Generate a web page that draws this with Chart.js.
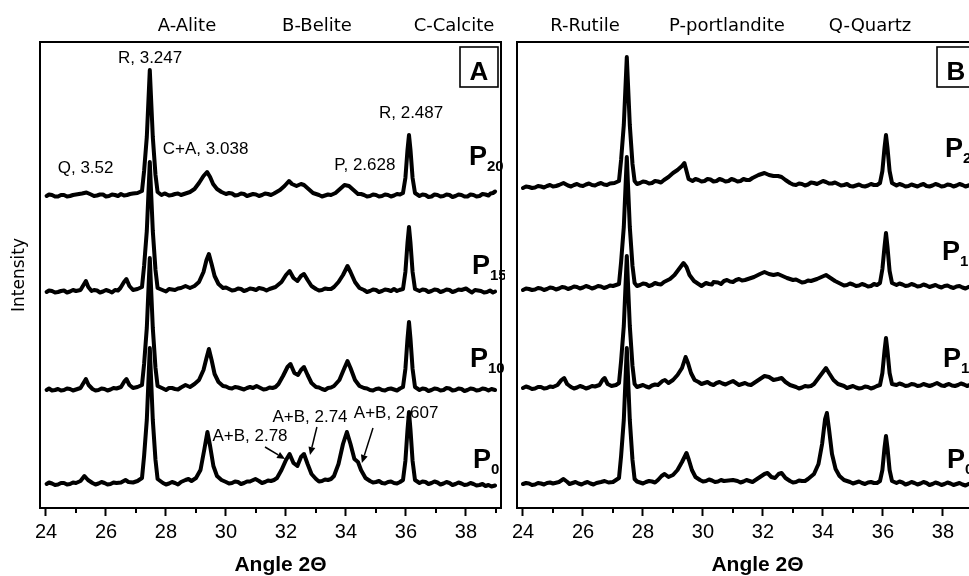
<!DOCTYPE html>
<html><head><meta charset="utf-8">
<script src="https://cdn.jsdelivr.net/npm/chart.js@4.4.1/dist/chart.umd.min.js"></script>
<style>
html,body{margin:0;padding:0;background:#fff;width:969px;height:576px;overflow:hidden;position:relative}
canvas{position:absolute;top:0}
#cA{left:0}
#cB{left:477px}
.leg{position:absolute;top:16px;font-family:"DejaVu Sans",sans-serif;font-size:18px;line-height:18px;white-space:nowrap;transform:translateX(-50%);color:#000}
</style></head><body>
<canvas id="cA" width="505" height="576"></canvas>
<canvas id="cB" width="505" height="576"></canvas>
<script>
// ---------- data (angle 2θ, intensity above own baseline) ----------
const angleTicks = [24, 26, 28, 30, 32, 34, 36, 38];
const minorTicks = [25, 27, 29, 31, 33, 35, 37, 39];
const seriesNames = ['P0', 'P10', 'P15', 'P20'];
const phaseLegend = ['A-Alite', 'B-Belite', 'C-Calcite', 'R-Rutile', 'P-portlandite', 'Q-Quartz'];
const offsetsA = [24, 118, 216, 312];
const offsetsB = [24, 120, 219, 322];

const A_P20 = [[24.02,0],[24.1,1.5],[24.2,1],[24.3,-0.5],[24.4,-0.5],[24.5,1],[24.6,1],[24.7,-0.5],[24.8,0],[24.9,1],[25.0,1.5],[25.2,2.5],[25.35,3.5],[25.5,1.5],[25.6,0],[25.7,0.5],[25.8,1.5],[25.9,1.5],[26.0,-0.5],[26.1,0],[26.2,1.5],[26.3,1],[26.4,0],[26.5,2],[26.6,0.5],[26.7,1],[26.8,2],[26.9,2.5],[27.05,3],[27.2,5],[27.27,25],[27.36,59],[27.46,126],[27.56,59],[27.65,21],[27.72,4],[27.85,1],[27.95,2.5],[28.0,2],[28.1,0.5],[28.2,1],[28.3,2],[28.4,2.5],[28.5,1],[28.6,2],[28.7,3],[28.8,4],[28.95,7],[29.1,13],[29.25,20],[29.37,24],[29.47,19],[29.57,12],[29.7,7],[29.85,4],[30.0,2],[30.1,3],[30.2,2.5],[30.3,0.5],[30.4,1],[30.5,2.5],[30.6,2],[30.7,0],[30.8,1],[30.9,2],[31.0,1.5],[31.1,0],[31.2,1],[31.3,2.5],[31.4,2],[31.5,1],[31.6,2.5],[31.8,6],[31.95,10],[32.1,15],[32.2,12],[32.35,10],[32.5,12],[32.6,11],[32.75,7],[32.9,3],[33.0,2],[33.1,1],[33.2,-0.5],[33.3,0.5],[33.4,1.5],[33.5,1],[33.65,3],[33.8,7],[33.95,11],[34.1,10],[34.25,6],[34.4,2],[34.5,2],[34.6,1],[34.7,-0.5],[34.8,0],[34.9,1.5],[35.0,1],[35.1,-0.5],[35.2,0],[35.3,1.5],[35.4,1],[35.5,-0.5],[35.6,0.5],[35.7,2],[35.8,1.5],[35.9,3],[35.98,18],[36.05,46],[36.1,61],[36.15,46],[36.22,18],[36.3,3],[36.45,0],[36.55,1.5],[36.65,1],[36.75,-1],[36.85,-0.5],[36.95,1.5],[37.05,1],[37.15,-0.5],[37.25,0],[37.35,1.5],[37.45,1],[37.55,-1],[37.65,0],[37.75,1.5],[37.85,1],[37.95,-0.5],[38.05,-0.5],[38.15,1.5],[38.25,1],[38.35,-0.5],[38.45,0],[38.55,2],[38.65,1.5],[38.75,0.5],[38.82,2.5],[38.9,3],[38.97,4.5]];
const A_P15 = [[24.02,0],[24.1,1.5],[24.2,1],[24.3,-0.5],[24.4,0],[24.5,1],[24.6,1.5],[24.7,-0.5],[24.8,0.5],[24.9,2],[25.0,1],[25.15,2],[25.25,7],[25.33,11],[25.41,5],[25.52,1],[25.6,2],[25.7,1.5],[25.8,-0.5],[25.9,0.5],[26.0,2],[26.1,1],[26.2,-0.5],[26.3,2],[26.4,1.5],[26.48,4],[26.6,10],[26.68,13],[26.78,6],[26.9,2],[27.05,3],[27.2,5],[27.27,26],[27.36,61],[27.46,130],[27.56,61],[27.65,22],[27.72,4],[27.88,2],[28.0,0.5],[28.1,3],[28.2,2.5],[28.3,2],[28.4,3.5],[28.5,4],[28.65,6],[28.8,4],[28.95,6],[29.1,10],[29.25,20],[29.35,32],[29.43,38],[29.52,28],[29.62,16],[29.75,8],[29.9,4],[30.0,4.5],[30.1,3],[30.2,1.5],[30.3,2],[30.4,3.5],[30.5,3],[30.6,1],[30.7,2],[30.8,3.5],[30.9,3],[31.0,2],[31.1,4],[31.25,3],[31.35,1.5],[31.45,3],[31.55,4],[31.65,5],[31.85,10],[32.0,17],[32.12,21],[32.25,14],[32.38,11],[32.5,16],[32.6,18],[32.72,12],[32.85,6],[33.0,3],[33.1,1.5],[33.2,2],[33.3,3.5],[33.4,3],[33.5,3],[33.6,5],[33.75,10],[33.9,17],[34.05,26],[34.15,20],[34.3,10],[34.45,4],[34.6,2],[34.7,0],[34.8,1],[34.9,2.5],[35.0,2],[35.1,0],[35.2,1],[35.3,2.5],[35.4,2],[35.5,1],[35.6,3],[35.7,1],[35.78,2],[35.9,3],[35.98,20],[36.05,49],[36.1,65],[36.15,49],[36.22,20],[36.3,3],[36.45,1],[36.55,2.5],[36.65,2],[36.75,0],[36.85,1],[36.95,2.5],[37.05,2],[37.15,0],[37.25,1],[37.35,2.5],[37.45,2],[37.55,0],[37.65,1],[37.75,2.5],[37.85,2],[38.0,3.5],[38.12,1],[38.2,-0.5],[38.3,2],[38.4,1.5],[38.5,1],[38.6,-0.5],[38.7,0],[38.8,1.5],[38.9,-0.5],[38.97,0.5]];
const A_P10 = [[24.02,0],[24.1,1.5],[24.2,-0.5],[24.3,0],[24.4,1],[24.5,-0.5],[24.6,0],[24.7,1.5],[24.8,1],[24.9,-0.5],[25.0,0.5],[25.15,2],[25.25,7],[25.33,11],[25.42,5],[25.55,1],[25.65,-0.5],[25.75,0],[25.85,1.5],[25.95,1],[26.05,-0.5],[26.15,0.5],[26.25,2],[26.35,1.5],[26.5,3],[26.62,9],[26.68,11],[26.78,5],[26.9,2],[27.05,3],[27.2,5],[27.27,26],[27.36,62],[27.46,132],[27.56,62],[27.65,22],[27.72,4],[27.9,1.5],[28.0,0],[28.1,2],[28.2,2],[28.3,1],[28.4,0.5],[28.5,2.5],[28.65,5],[28.8,3],[28.95,6],[29.1,10],[29.25,20],[29.35,32],[29.43,41],[29.52,30],[29.62,16],[29.75,8],[29.9,4],[30.0,3.5],[30.1,2],[30.2,1.5],[30.3,3],[30.4,2.5],[30.5,1.5],[30.6,0.5],[30.7,2],[30.8,3],[30.9,2],[31.02,4],[31.15,2],[31.25,0.5],[31.35,1],[31.45,2.5],[31.55,2],[31.65,3],[31.75,6],[31.9,14],[32.05,23],[32.15,26],[32.28,17],[32.4,15],[32.5,20],[32.6,23],[32.72,15],[32.85,7],[33.0,3],[33.1,2.5],[33.2,1],[33.3,0],[33.4,2],[33.5,2.5],[33.6,4],[33.78,10],[33.92,20],[34.05,29],[34.15,22],[34.3,10],[34.45,4],[34.6,2],[34.7,1.5],[34.8,0],[34.9,-0.5],[35.0,1],[35.1,1.5],[35.2,0],[35.3,-0.5],[35.4,1],[35.5,1.5],[35.6,0.5],[35.7,-0.5],[35.8,1.5],[35.9,3],[35.98,21],[36.05,51],[36.1,68],[36.15,51],[36.22,21],[36.3,3],[36.45,0],[36.55,1.5],[36.65,1],[36.75,-1],[36.85,0],[36.95,1.5],[37.05,1],[37.15,-0.5],[37.25,0],[37.35,2],[37.45,1.5],[37.55,-0.5],[37.65,0],[37.75,1.5],[37.85,1],[37.95,-1],[38.05,0],[38.15,1.5],[38.25,1],[38.35,-0.5],[38.45,0],[38.55,1.5],[38.65,1],[38.75,-0.5],[38.85,1],[38.97,0]];
const A_P0 = [[24.02,0],[24.1,1.5],[24.2,0.5],[24.3,-1],[24.4,-0.5],[24.5,1],[24.6,1],[24.7,-0.5],[24.8,0],[24.9,1.5],[25.0,1],[25.15,3],[25.28,8],[25.4,4],[25.55,1],[25.65,-0.5],[25.75,0.5],[25.85,2],[25.95,1],[26.05,-0.5],[26.15,0],[26.25,1.5],[26.35,1],[26.5,1.5],[26.65,4],[26.75,2],[26.9,1.5],[27.05,3],[27.2,6],[27.27,28],[27.36,64],[27.46,136],[27.56,64],[27.65,24],[27.72,5],[27.9,1],[28.0,-0.5],[28.1,0.5],[28.2,2],[28.3,1],[28.4,-0.5],[28.5,2],[28.65,4],[28.75,5],[28.85,3],[29.0,6],[29.15,14],[29.28,35],[29.38,52],[29.47,38],[29.58,18],[29.7,8],[29.85,4],[30.0,2],[30.1,0.5],[30.2,1],[30.3,2.5],[30.4,2],[30.5,0],[30.6,1],[30.7,2.5],[30.8,2.5],[30.98,5],[31.1,3],[31.2,1],[31.3,2],[31.4,3.5],[31.5,3],[31.6,4],[31.7,6],[31.85,14],[32.0,24],[32.12,30],[32.25,21],[32.38,18],[32.5,27],[32.6,30],[32.72,20],[32.85,10],[33.0,5],[33.1,2.5],[33.2,3],[33.3,4.5],[33.4,4],[33.5,5],[33.6,8],[33.75,20],[33.9,40],[34.03,52],[34.15,40],[34.28,25],[34.4,22],[34.5,14],[34.65,6],[34.8,3],[34.9,1.5],[35.0,2],[35.1,3],[35.2,1],[35.3,0.5],[35.4,2],[35.5,2.5],[35.6,1],[35.7,0.5],[35.8,2],[35.9,4],[35.98,23],[36.05,54],[36.1,72],[36.15,54],[36.22,23],[36.3,4],[36.45,1],[36.55,2.5],[36.65,2],[36.75,0],[36.85,1],[36.95,2.5],[37.05,1.5],[37.15,-0.5],[37.25,0.5],[37.35,2],[37.45,1],[37.55,-1],[37.65,0],[37.75,1.5],[37.85,0.5],[37.95,-1],[38.05,-0.5],[38.15,1],[38.25,0],[38.35,-1.5],[38.45,-1],[38.55,0],[38.65,-2],[38.75,-1],[38.85,-2.5],[38.97,-1.5]];

const B_P20 = [[24.0,-2],[24.1,-0.5],[24.2,-1],[24.3,-2],[24.4,-1.5],[24.5,0],[24.6,-0.5],[24.7,-1.5],[24.8,0],[24.9,1],[25.0,-0.5],[25.1,0],[25.2,1],[25.35,3],[25.5,0.5],[25.6,-0.5],[25.7,1],[25.8,2],[25.9,0.5],[26.0,0],[26.1,1.5],[26.2,2.5],[26.3,1],[26.4,0.5],[26.5,2],[26.6,3],[26.7,1.5],[26.8,1],[26.9,2.5],[27.05,3],[27.2,5],[27.27,26],[27.36,61],[27.46,129],[27.56,61],[27.65,22],[27.72,5],[27.8,2],[27.9,3],[28.0,4.5],[28.1,4],[28.2,2.5],[28.3,3],[28.4,5],[28.5,4.5],[28.6,3.5],[28.7,6],[28.85,9],[29.0,13],[29.15,16],[29.3,20],[29.38,23],[29.45,15],[29.52,7],[29.65,5],[29.75,7],[29.85,6],[29.95,4.5],[30.05,5],[30.15,7],[30.25,6.5],[30.35,4.5],[30.45,5],[30.55,7],[30.65,6],[30.75,4.5],[30.85,5],[30.95,7],[31.05,6],[31.15,4.5],[31.25,5],[31.35,7],[31.45,6],[31.55,6],[31.65,8],[31.85,11],[32.05,13],[32.2,11],[32.35,10],[32.5,10],[32.62,9],[32.75,6],[32.9,3],[33.0,1.5],[33.1,1],[33.2,2.5],[33.3,2],[33.4,0.5],[33.5,1.5],[33.6,3.5],[33.7,3],[33.8,2],[33.9,3.5],[34.0,5],[34.1,4],[34.2,2.5],[34.3,2.5],[34.4,3.5],[34.5,2],[34.6,0.5],[34.7,1],[34.8,2],[34.9,0],[35.0,-0.5],[35.1,0.5],[35.2,1.5],[35.3,0],[35.4,-0.5],[35.5,0.5],[35.6,2],[35.7,1],[35.8,1],[35.9,3],[35.98,15],[36.05,38],[36.1,51],[36.15,38],[36.22,15],[36.3,3],[36.45,0.5],[36.55,2],[36.65,1],[36.75,-0.5],[36.85,0],[36.95,1.5],[37.05,0.5],[37.15,-0.5],[37.25,1],[37.35,2],[37.45,0],[37.55,-0.5],[37.65,0.5],[37.75,2],[37.85,1],[37.95,-0.5],[38.05,0],[38.15,1.5],[38.25,1],[38.35,-0.5],[38.45,0.5],[38.55,2],[38.65,1],[38.75,-0.5],[38.85,0.5],[38.95,2],[39.1,1]];
const B_P15 = [[24.0,-1],[24.1,0.5],[24.2,0],[24.3,-1],[24.4,-0.5],[24.5,1],[24.6,0.5],[24.7,-1],[24.8,0],[24.9,1.5],[25.0,1],[25.1,-0.5],[25.2,0.5],[25.3,2],[25.4,1.5],[25.5,0],[25.6,1],[25.7,2.5],[25.8,2],[25.9,0.5],[26.0,1.5],[26.1,3],[26.2,2],[26.3,0.5],[26.4,1.5],[26.5,3],[26.6,2.5],[26.7,1],[26.8,2],[26.9,3.5],[27.0,3],[27.2,5],[27.27,27],[27.36,62],[27.46,132],[27.56,62],[27.65,23],[27.72,6],[27.8,3],[27.9,4],[28.0,5.5],[28.1,5],[28.2,3],[28.3,4],[28.4,6],[28.5,5],[28.6,4.5],[28.7,7],[28.9,10],[29.05,14],[29.2,20],[29.35,26],[29.45,22],[29.55,14],[29.7,8],[29.85,5],[29.95,3],[30.0,4],[30.1,6],[30.2,5],[30.3,4.5],[30.35,7],[30.5,6.5],[30.6,5],[30.7,8],[30.8,9],[30.9,7.5],[31.0,7],[31.1,9],[31.2,10],[31.3,8.5],[31.4,9],[31.5,10],[31.7,12],[31.9,15],[32.05,17],[32.2,15],[32.35,14],[32.5,15],[32.65,13],[32.8,11],[33.0,9],[33.1,9.5],[33.2,8],[33.3,6.5],[33.4,7],[33.5,8.5],[33.6,8],[33.8,10],[33.95,12],[34.1,14],[34.25,11],[34.4,8],[34.6,5],[34.7,3.5],[34.8,4],[34.9,5.5],[35.0,4.5],[35.1,3],[35.2,3.5],[35.3,5],[35.4,4],[35.5,2.5],[35.6,3],[35.7,5],[35.8,4],[35.9,6],[35.98,20],[36.05,42],[36.1,56],[36.15,42],[36.22,18],[36.3,6],[36.45,4],[36.55,5.5],[36.65,4.5],[36.75,3],[36.85,3.5],[36.95,5],[37.05,4],[37.15,2.5],[37.25,3],[37.35,4.5],[37.45,3.5],[37.55,2],[37.65,3],[37.75,4],[37.85,2.5],[37.95,1.5],[38.05,3],[38.15,3.5],[38.25,2],[38.35,1],[38.45,2.5],[38.55,3],[38.65,1.5],[38.75,0.5],[38.85,2],[38.95,2.5],[39.1,1]];
const B_P10 = [[24.0,0],[24.1,1.5],[24.2,0.5],[24.3,-1],[24.4,-0.5],[24.5,1],[24.6,1],[24.7,-0.5],[24.8,0],[24.9,1.5],[25.0,1],[25.15,3],[25.28,8],[25.37,10],[25.47,4],[25.6,1],[25.7,-0.5],[25.8,0.5],[25.9,2],[26.0,1],[26.1,-0.5],[26.2,0.5],[26.3,2],[26.4,1.5],[26.55,3],[26.65,8],[26.72,10],[26.82,4],[26.95,2],[27.1,3],[27.2,5],[27.27,27],[27.36,62],[27.46,132],[27.56,62],[27.65,22],[27.72,4],[27.8,1],[27.9,2],[28.0,3],[28.1,1.5],[28.2,0.5],[28.3,2.5],[28.4,3.5],[28.5,3],[28.65,7],[28.73,8],[28.85,5],[29.0,8],[29.15,13],[29.3,20],[29.42,31],[29.5,25],[29.6,15],[29.72,8],[29.85,6],[29.95,4],[30.05,5],[30.15,6],[30.25,4],[30.35,3],[30.45,5],[30.55,6],[30.65,4.5],[30.75,3.5],[30.85,5],[31.0,7],[31.1,5],[31.2,3],[31.3,4],[31.4,5],[31.5,3.5],[31.6,3],[31.7,5],[31.9,9],[32.05,12],[32.2,11],[32.35,8],[32.5,9],[32.62,10],[32.75,6],[32.9,3],[33.0,2],[33.1,1],[33.2,-0.5],[33.3,0.5],[33.4,2],[33.5,1.5],[33.6,2],[33.7,4],[33.85,10],[34.0,16],[34.1,20],[34.2,15],[34.35,8],[34.5,4],[34.6,3],[34.7,2],[34.8,0],[34.9,1],[35.0,2],[35.1,0.5],[35.2,-0.5],[35.3,0],[35.4,1.5],[35.5,1],[35.6,-0.5],[35.7,0.5],[35.8,2],[35.9,3],[35.98,15],[36.05,37],[36.1,50],[36.15,37],[36.22,15],[36.3,4],[36.45,3],[36.55,4.5],[36.65,3.5],[36.75,2],[36.85,2.5],[36.95,4],[37.05,3.5],[37.15,2],[37.25,2.5],[37.35,4],[37.45,3],[37.55,2],[37.65,3],[37.8,5],[37.95,2.5],[38.05,2],[38.1,3],[38.2,4],[38.3,2.5],[38.4,2],[38.5,3],[38.6,4.5],[38.7,3.5],[38.8,2],[38.9,3],[39.0,4],[39.1,3]];
const B_P0 = [[24.0,0],[24.1,1],[24.2,0.5],[24.3,-1],[24.4,-0.5],[24.5,1],[24.6,0.5],[24.7,-0.5],[24.8,1],[24.9,1.5],[25.0,0.5],[25.2,2],[25.35,5],[25.48,2],[25.55,0],[25.65,1],[25.75,2],[25.85,0.5],[25.95,-0.5],[26.05,1],[26.15,2],[26.25,0.5],[26.35,-0.5],[26.45,1],[26.6,2],[26.72,3],[26.85,1.5],[27.0,2],[27.2,6],[27.27,28],[27.36,64],[27.46,136],[27.56,64],[27.65,24],[27.72,5],[27.8,2.5],[27.9,1.5],[28.0,0.5],[28.1,2],[28.2,3],[28.3,2.5],[28.4,1.5],[28.5,4],[28.62,8],[28.72,10],[28.85,7],[29.0,9],[29.15,14],[29.3,22],[29.45,31],[29.53,24],[29.63,14],[29.75,7],[29.9,4],[30.0,2.5],[30.1,3],[30.2,4.5],[30.3,3.5],[30.4,2],[30.5,2.5],[30.6,4],[30.7,3],[30.85,3.5],[31.0,4],[31.15,3],[31.25,1.5],[31.35,2.5],[31.45,4],[31.55,3],[31.65,2],[31.75,4],[31.9,7],[32.05,10],[32.15,11],[32.28,7],[32.4,6],[32.52,10],[32.62,11],[32.75,6],[32.9,3],[33.0,1.5],[33.1,2],[33.2,3.5],[33.3,3],[33.4,3],[33.5,5],[33.7,10],[33.85,20],[33.97,40],[34.07,65],[34.13,71],[34.2,55],[34.3,30],[34.42,15],[34.55,8],[34.7,4],[34.8,3],[34.9,2],[35.0,0.5],[35.1,1.5],[35.2,2.5],[35.3,1],[35.4,0],[35.5,1.5],[35.6,2],[35.7,1],[35.8,1],[35.9,3],[35.98,14],[36.05,36],[36.1,48],[36.15,36],[36.22,14],[36.3,3],[36.45,1],[36.55,2.5],[36.65,1.5],[36.75,-0.5],[36.85,0.5],[36.95,2],[37.05,1],[37.15,-0.5],[37.25,0.5],[37.35,2],[37.45,1],[37.55,-1],[37.65,0],[37.75,1.5],[37.85,0.5],[37.95,-1],[38.05,0],[38.15,1.5],[38.25,0.5],[38.35,-1],[38.45,0],[38.55,1],[38.65,-0.5],[38.75,-1.5],[38.85,0],[38.95,0.5],[39.1,-0.5]];

// ---------- annotations / layout ----------
const xTitle = 'Angle 2\u0398';
const yTitle = 'Intensity';
const legendCenters = [187, 317, 454, 585, 727, 870];
const peakLabelsA = [
  {text: 'R, 3.247', x: 27.47, y: 450},
  {text: 'R, 2.487', x: 36.17, y: 395},
  {text: 'C+A, 3.038', x: 29.32, y: 359},
  {text: 'Q, 3.52', x: 25.32, y: 340},
  {text: 'P, 2.628', x: 34.63, y: 343},
  {text: 'A+B, 2.78', x: 30.8, y: 72},
  {text: 'A+B, 2.74', x: 32.8, y: 91},
  {text: 'A+B, 2.607', x: 35.67, y: 95}
];
const arrowsA = [
  {from: [31.3, 61], to: [31.97, 49]},
  {from: [33.03, 81], to: [32.8, 53]},
  {from: [34.9, 80], to: [34.53, 45]}
];
const seriesLabelPosA = [[38.23, 40], [38.13, 141], [38.2, 234], [38.1, 343]];
const seriesLabelPosB = [[38.13, 40], [38.0, 141], [37.97, 248], [38.07, 351]];

const SANS = '"Liberation Sans", Arial, Helvetica, sans-serif';

function decor(panel) {
  return {
    id: 'decor',
    beforeDatasetsDraw(chart) {
      const {ctx, scales: {x, y}} = chart;
      ctx.save();
      ctx.fillStyle = '#000'; ctx.strokeStyle = '#000';
      ctx.font = '17px ' + SANS;
      ctx.textAlign = 'center'; ctx.textBaseline = 'middle';
      panel.peakLabels.forEach(l => ctx.fillText(l.text, x.getPixelForValue(l.x), y.getPixelForValue(l.y)));
      ctx.lineWidth = 1.5;
      panel.arrows.forEach(a => {
        const x0 = x.getPixelForValue(a.from[0]), y0 = y.getPixelForValue(a.from[1]);
        const x1 = x.getPixelForValue(a.to[0]), y1 = y.getPixelForValue(a.to[1]);
        const ang = Math.atan2(y1 - y0, x1 - x0), L = 8, W = 3.5;
        const bx = x1 - L * Math.cos(ang), by = y1 - L * Math.sin(ang);
        ctx.beginPath(); ctx.moveTo(x0, y0); ctx.lineTo(bx, by); ctx.stroke();
        ctx.beginPath(); ctx.moveTo(x1, y1);
        ctx.lineTo(bx + W * Math.sin(ang), by - W * Math.cos(ang));
        ctx.lineTo(bx - W * Math.sin(ang), by + W * Math.cos(ang));
        ctx.closePath(); ctx.fill();
      });
      ctx.restore();
    },
    afterDraw(chart) {
      const {ctx, chartArea: ca, scales: {x, y}} = chart;
      ctx.save();
      ctx.strokeStyle = '#000'; ctx.fillStyle = '#000';
      ctx.lineWidth = 2;
      minorTicks.forEach(v => {
        const px = Math.round(x.getPixelForValue(v));
        ctx.beginPath(); ctx.moveTo(px, ca.bottom); ctx.lineTo(px, ca.bottom + 5); ctx.stroke();
      });
      ctx.strokeRect(ca.left, ca.top, ca.right - ca.left, ca.bottom - ca.top);
      // panel letter box
      ctx.lineWidth = 1.6;
      const bx = ca.right - 41, by = ca.top + 5;
      ctx.strokeRect(bx, by, 38, 40);
      ctx.font = 'bold 26px ' + SANS;
      ctx.textAlign = 'center'; ctx.textBaseline = 'alphabetic';
      ctx.fillText(panel.letter, bx + 19, by + 33);
      // series labels with subscripts
      seriesNames.forEach((name, i) => {
        const p = panel.labelPos[i];
        const px = x.getPixelForValue(p[0]), py = y.getPixelForValue(p[1]);
        ctx.textAlign = 'left';
        ctx.font = 'bold 27px ' + SANS;
        const main = name.charAt(0), sub = name.slice(1);
        ctx.fillText(main, px, py);
        const w = ctx.measureText(main).width;
        ctx.font = 'bold 15px ' + SANS;
        ctx.fillText(sub, px + w, py + 6);
      });
      // x-axis title
      ctx.font = 'bold 21px ' + SANS;
      ctx.textAlign = 'center'; ctx.textBaseline = 'alphabetic';
      ctx.fillText(xTitle, (ca.left + ca.right) / 2 + 10, ca.bottom + 63);
      ctx.restore();
    }
  };
}

function buildChart(id, panel) {
  return new Chart(document.getElementById(id), {
    type: 'line',
    data: {
      datasets: panel.series.map((pts, i) => ({
        label: seriesNames[i],
        data: pts.map(([a, h]) => ({x: a, y: h + panel.offsets[i]})),
        borderColor: '#000', borderWidth: 4, pointRadius: 0, tension: 0, fill: false,
        borderJoinStyle: 'round', borderCapStyle: 'round'
      }))
    },
    options: {
      responsive: false, animation: false, events: [],
      layout: {padding: {top: 42, right: 4, left: 0, bottom: 0}},
      plugins: {legend: {display: false}, tooltip: {enabled: false}},
      scales: {
        x: {
          type: 'linear', min: 23.8, max: 39.167,
          afterBuildTicks: s => { s.ticks = angleTicks.map(v => ({value: v})); },
          afterFit: s => { s.height = 68; },
          grid: {display: true, drawOnChartArea: false, drawTicks: true, tickLength: 8, tickWidth: 2, tickColor: '#000'},
          border: {display: false},
          ticks: {color: '#000', font: {family: SANS, size: 20}, padding: 4, maxRotation: 0, autoSkip: false,
                  callback: v => String(v)}
        },
        y: {
          min: 0, max: 466,
          afterFit: s => { s.width = 40; },
          grid: {display: false}, border: {display: false}, ticks: {display: false},
          title: {display: panel.showYTitle, text: yTitle, color: '#000',
                  font: {family: '"DejaVu Sans", sans-serif', size: 17}, padding: {top: 9, bottom: 0}}
        }
      }
    },
    plugins: [decor(panel)]
  });
}

buildChart('cA', {letter: 'A', series: [A_P0, A_P10, A_P15, A_P20], offsets: offsetsA,
  peakLabels: peakLabelsA, arrows: arrowsA, labelPos: seriesLabelPosA, showYTitle: true});
buildChart('cB', {letter: 'B', series: [B_P0, B_P10, B_P15, B_P20], offsets: offsetsB,
  peakLabels: [], arrows: [], labelPos: seriesLabelPosB, showYTitle: false});

phaseLegend.forEach((t, i) => {
  const d = document.createElement('div');
  d.className = 'leg'; d.textContent = t; d.style.left = legendCenters[i] + 'px';
  document.body.appendChild(d);
});
</script>
</body></html>
